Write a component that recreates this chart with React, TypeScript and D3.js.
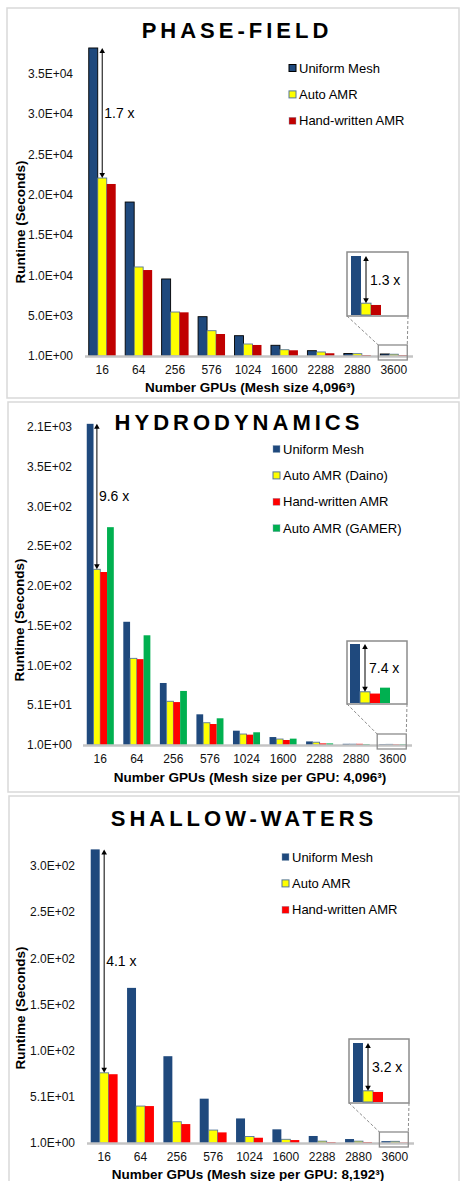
import React from "react";
import * as d3 from "d3";

const FONT = "'Liberation Sans', Arial, Helvetica, sans-serif";

// shared categories
const groups = ["16", "64", "256", "576", "1024", "1600", "2288", "2880", "3600"];

// phase-field runtimes (seconds)
const phaseUniform = [38230, 19110, 9560, 4880, 2520, 1330, 660, 310, 250];
const phaseAuto = [22090, 11050, 5460, 3140, 1490, 780, 500, 290, 220];
const phaseHand = [21350, 10670, 5420, 2730, 1370, 710, 340, 120, 110];
const phaseTicks = [0, 5000, 10000, 15000, 20000, 25000, 30000, 35000];
const phaseTickLabels = ["1.0E+00", "5.0E+03", "1.0E+04", "1.5E+04", "2.0E+04", "2.5E+04", "3.0E+04", "3.5E+04"];
const phaseInset = [100, 20, 17];

// hydrodynamics runtimes (first uniform bar is clipped at the axis top)
const hydroUniform = [404, 155, 78, 38.6, 18, 10, 4.5, 1.5, 1];
const hydroDaino = [221, 109, 55, 28, 13.8, 7.5, 3.5, 1, 0.8];
const hydroHand = [217.6, 108, 54, 26.4, 13, 6.3, 2, 1.5, 0.7];
const hydroGamer = [274, 138, 68, 33.6, 16, 8, 2, 1, 0.9];
const hydroTicks = [0, 50, 100, 150, 200, 250, 300, 350, 400];
const hydroTickLabels = ["1.0E+00", "5.1E+01", "1.0E+02", "1.5E+02", "2.0E+02", "2.5E+02", "3.0E+02", "3.5E+02", "2.1E+03"];
const hydroInset = [100, 19, 16, 26];

// shallow-waters runtimes
const shallowUniform = [318, 168, 94, 48, 26.6, 14.8, 7.6, 4.3, 2];
const shallowAuto = [76, 40, 23, 14, 7, 4, 2, 2, 1.8];
const shallowHand = [74.5, 40, 20.5, 11.5, 5.7, 3.2, 1, 1, 0.5];
const shallowTicks = [0, 50, 100, 150, 200, 250, 300];
const shallowTickLabels = ["1.0E+00", "5.1E+01", "1.0E+02", "1.5E+02", "2.0E+02", "2.5E+02", "3.0E+02"];
const shallowInset = [100, 19, 17];

const navy = "#1f497d";
const yellow = "#ffff00";
const yellowEdge = "#56779c";

type Series = { name: string; values: number[]; fill: string; stroke: string };

type Cfg = {
  box: [number, number, number, number];
  title: string;
  titleX: number;
  titleY: number;
  series: Series[];
  ticks: number[];
  tickLabels: string[];
  yDomainMax: number;
  yRange: [number, number];
  xRange: [number, number];
  yLabelX: number;
  yTitle: [number, number];
  tickLabelY: number;
  xTitle: string;
  xTitleX: number;
  xTitleY: number;
  legend: [number, number];
  ratio: string;
  inset: number[];
  insetBox: [number, number, number, number];
  insetBars: [number, number];
  insetRatio: string;
};

const panels: Cfg[] = [
  {
    box: [7, 8, 459, 398],
    title: "PHASE-FIELD",
    titleX: 235,
    titleY: 38,
    series: [
      { name: "Uniform Mesh", values: phaseUniform, fill: navy, stroke: "#000" },
      { name: "Auto AMR", values: phaseAuto, fill: yellow, stroke: yellowEdge },
      { name: "Hand-written AMR", values: phaseHand, fill: "#c00000", stroke: "none" },
    ],
    ticks: phaseTicks,
    tickLabels: phaseTickLabels,
    yDomainMax: 35000,
    yRange: [356, 74],
    xRange: [84, 412],
    yLabelX: 73,
    yTitle: [25, 222],
    tickLabelY: 374,
    xTitle: "Number GPUs (Mesh size 4,096³)",
    xTitleX: 250,
    xTitleY: 392,
    legend: [289, 68],
    ratio: "1.7 x",
    inset: phaseInset,
    insetBox: [347, 252, 408, 316],
    insetBars: [351, 381],
    insetRatio: "1.3 x",
  },
  {
    box: [8, 402, 459, 792],
    title: "HYDRODYNAMICS",
    titleX: 237,
    titleY: 430,
    series: [
      { name: "Uniform Mesh", values: hydroUniform, fill: navy, stroke: "none" },
      { name: "Auto AMR (Daino)", values: hydroDaino, fill: yellow, stroke: yellowEdge },
      { name: "Hand-written AMR", values: hydroHand, fill: "#ff0000", stroke: "none" },
      { name: "Auto AMR (GAMER)", values: hydroGamer, fill: "#00b050", stroke: "none" },
    ],
    ticks: hydroTicks,
    tickLabels: hydroTickLabels,
    yDomainMax: 400,
    yRange: [745, 427],
    xRange: [82, 411],
    yLabelX: 72,
    yTitle: [24, 620],
    tickLabelY: 763,
    xTitle: "Number GPUs (Mesh size per GPU: 4,096³)",
    xTitleX: 250,
    xTitleY: 782,
    legend: [273, 449],
    ratio: "9.6 x",
    inset: hydroInset,
    insetBox: [347, 641, 407, 704],
    insetBars: [350, 390],
    insetRatio: "7.4 x",
  },
  {
    box: [9, 796, 459, 1190],
    title: "SHALLOW-WATERS",
    titleX: 242,
    titleY: 826,
    series: [
      { name: "Uniform Mesh", values: shallowUniform, fill: navy, stroke: "none" },
      { name: "Auto AMR", values: shallowAuto, fill: yellow, stroke: yellowEdge },
      { name: "Hand-written AMR", values: shallowHand, fill: "#ff0000", stroke: "none" },
    ],
    ticks: shallowTicks,
    tickLabels: shallowTickLabels,
    yDomainMax: 300,
    yRange: [1143, 866],
    xRange: [86, 413],
    yLabelX: 75,
    yTitle: [25, 1008],
    tickLabelY: 1161,
    xTitle: "Number GPUs (Mesh size per GPU: 8,192³)",
    xTitleX: 248,
    xTitleY: 1179,
    legend: [282, 857],
    ratio: "4.1 x",
    inset: shallowInset,
    insetBox: [349, 1039, 409, 1103],
    insetBars: [353, 383],
    insetRatio: "3.2 x",
  },
];

// vertical double-headed arrow
function Arrow({ x, y1, y2 }: { x: number; y1: number; y2: number }) {
  const h = 5;
  const w = 2.8;
  return (
    <g>
      <line x1={x} x2={x} y1={y1 + h - 1} y2={y2 - h + 1} stroke="#000" strokeWidth={1} />
      <path d={`M${x},${y1}L${x - w},${y1 + h}L${x + w},${y1 + h}Z`} fill="#000" />
      <path d={`M${x},${y2}L${x - w},${y2 - h}L${x + w},${y2 - h}Z`} fill="#000" />
    </g>
  );
}

function Panel({ cfg }: { cfg: Cfg }) {
  const names = cfg.series.map((s) => s.name);
  const x = d3.scaleBand().domain(groups).range(cfg.xRange).paddingInner(0.26).paddingOuter(0.13);
  const inner = d3.scaleBand().domain(names).range([0, x.bandwidth()]);
  const y = d3.scaleLinear().domain([0, cfg.yDomainMax]).range(cfg.yRange);
  const y0 = y(0);
  const [bx0, by0, bx1, by1] = cfg.box;

  // main ratio arrow on the first group
  const ax = (x(groups[0]) as number) + (inner(names[1]) as number) + inner.bandwidth() / 2;
  const ay1 = y(cfg.series[0].values[0]);
  const ay2 = y(cfg.series[1].values[0]);

  // inset
  const [ix0, iy0, ix1, iy1] = cfg.insetBox;
  const ib = d3.scaleBand().domain(names).range(cfg.insetBars);
  const iy = d3.scaleLinear().domain([0, 100]).range([iy1 - 1, iy1 - 60]);
  const iax = (ib(names[1]) as number) + ib.bandwidth() / 2;

  // zoom box around last group
  const last = groups[groups.length - 1];
  const zx0 = (x(last) as number) - 2;
  const zx1 = (x(last) as number) + x.bandwidth();
  const zy0 = y0 - 11;
  const zy1 = y0 + 4;

  return (
    <g fontFamily={FONT}>
      <rect x={bx0} y={by0} width={bx1 - bx0} height={by1 - by0} fill="#fff" stroke="#d9d9d9" strokeWidth={1.5} />
      <text
        x={cfg.titleX + 2}
        y={cfg.titleY}
        textAnchor="middle"
        fontSize={22}
        fontWeight="bold"
        style={{ letterSpacing: "4px" }}
        fill="#000"
      >
        {cfg.title}
      </text>

      {/* y tick labels */}
      {cfg.ticks.map((t, i) => (
        <text key={t} x={cfg.yLabelX} y={y(t)} dy="0.35em" textAnchor="end" fontSize={12} fill="#111">
          {cfg.tickLabels[i]}
        </text>
      ))}
      <text
        transform={`translate(${cfg.yTitle[0]},${cfg.yTitle[1]}) rotate(-90)`}
        textAnchor="middle"
        fontSize={13.5}
        fontWeight="bold"
        fill="#000"
      >
        Runtime (Seconds)
      </text>

      {/* bars */}
      {groups.map((g, gi) => (
        <g key={g} transform={`translate(${x(g)},0)`}>
          {cfg.series.map((s) => {
            const top = y(s.values[gi]);
            return (
              <rect
                key={s.name}
                x={inner(s.name)}
                y={top}
                width={inner.bandwidth()}
                height={Math.max(0, y0 - top)}
                fill={s.fill}
                stroke={s.stroke}
                strokeWidth={s.stroke === "none" ? 0 : 0.9}
              />
            );
          })}
        </g>
      ))}
      <line x1={cfg.xRange[0] + 1} x2={cfg.xRange[1] + 1} y1={y0 + 0.5} y2={y0 + 0.5} stroke="#c4c4c4" strokeWidth={2.5} />

      {/* x tick labels */}
      {groups.map((g) => (
        <text
          key={g}
          x={(x(g) as number) + x.bandwidth() / 2}
          y={cfg.tickLabelY}
          textAnchor="middle"
          fontSize={12}
          fill="#111"
        >
          {g}
        </text>
      ))}
      <text x={cfg.xTitleX} y={cfg.xTitleY} textAnchor="middle" fontSize={13.5} fontWeight="bold" fill="#000">
        {cfg.xTitle}
      </text>

      {/* legend */}
      {cfg.series.map((s, i) => {
        const cy = cfg.legend[1] + i * 26.4;
        return (
          <g key={s.name}>
            <rect
              x={cfg.legend[0]}
              y={cy - 3.5}
              width={7}
              height={7}
              fill={s.fill}
              stroke={s.stroke === "none" ? "#8aa0b8" : s.stroke}
              strokeWidth={s.stroke === "none" ? 0.4 : 1}
            />
            <text x={cfg.legend[0] + 10} y={cy} dy="0.36em" fontSize={13} fill="#000">
              {s.name}
            </text>
          </g>
        );
      })}

      {/* ratio annotation */}
      <Arrow x={ax} y1={ay1} y2={ay2} />
      <text x={ax + 2} y={(ay1 + ay2) / 2} dy="0.35em" fontSize={14} fill="#000">
        {cfg.ratio}
      </text>

      {/* zoom connectors and box */}
      <line x1={ix0} y1={iy1} x2={zx0} y2={zy0} stroke="#8c8c8c" strokeWidth={1} strokeDasharray="3,2" />
      <line x1={ix1} y1={iy1} x2={zx1} y2={zy0} stroke="#8c8c8c" strokeWidth={1} strokeDasharray="3,2" />
      <rect x={zx0} y={zy0} width={zx1 - zx0} height={zy1 - zy0} fill="none" stroke="#8c8c8c" strokeWidth={1.3} />

      {/* inset */}
      <rect x={ix0} y={iy0} width={ix1 - ix0} height={iy1 - iy0} fill="#fff" stroke="#8c8c8c" strokeWidth={1.5} />
      {cfg.series.map((s, i) => {
        const top = iy(cfg.inset[i]);
        return (
          <rect
            key={s.name}
            x={ib(s.name)}
            y={top}
            width={ib.bandwidth()}
            height={iy(0) - top}
            fill={s.fill}
            stroke={i === 1 ? yellowEdge : "none"}
            strokeWidth={i === 1 ? 1 : 0}
          />
        );
      })}
      <Arrow x={iax} y1={iy(cfg.inset[0])} y2={iy(cfg.inset[1])} />
      <text x={iax + 4} y={(iy(cfg.inset[0]) + iy(cfg.inset[1])) / 2} dy="0.35em" fontSize={14} fill="#000">
        {cfg.insetRatio}
      </text>
    </g>
  );
}

export default function App() {
  const width = 462;
  const height = 1181;
  return (
    <svg
      width={width}
      height={height}
      style={{ position: "absolute", left: 0, top: 0, display: "block", background: "#fff" }}
    >
      {panels.map((p) => (
        <Panel key={p.title} cfg={p} />
      ))}
    </svg>
  );
}
